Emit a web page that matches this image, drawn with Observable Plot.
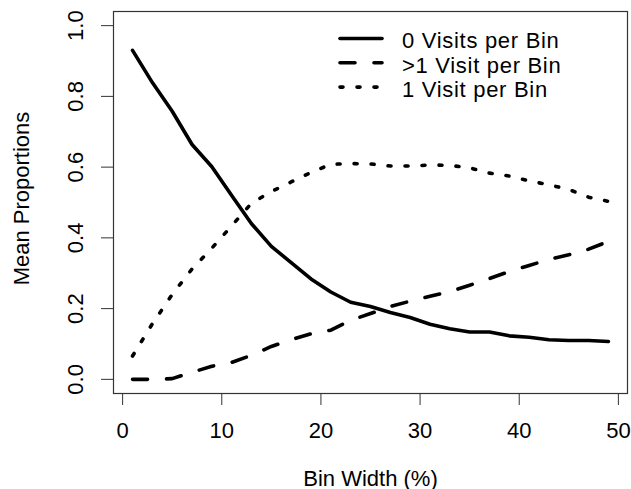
<!DOCTYPE html>
<html>
<head>
<meta charset="utf-8">
<script src="https://cdn.jsdelivr.net/npm/d3@7"></script>
<script src="https://cdn.jsdelivr.net/npm/@observablehq/plot@0.6"></script>
<style>
  body { margin: 0; background: #fff; }
  #chart svg { display: block; }
</style>
</head>
<body>
<div id="chart"></div>
<script>
// Bin width (%) at which the mean proportions were computed
const binWidth = [1, 3, 5, 7, 9, 11, 13, 15, 17, 19, 21, 23, 25, 27, 29, 31, 33, 35, 37, 39, 41, 43, 45, 47, 49];

// Mean proportion of bins with no visits
const zeroVisits = [0.930, 0.839, 0.758, 0.664, 0.601, 0.520, 0.440, 0.376, 0.330, 0.284, 0.247, 0.218, 0.206,
                    0.189, 0.175, 0.156, 0.143, 0.134, 0.134, 0.123, 0.119, 0.112, 0.110, 0.110, 0.107];

// Mean proportion of bins with more than one visit
const multiVisits = [0.000, 0.000, 0.002, 0.020, 0.037, 0.048, 0.068, 0.093, 0.112, 0.129, 0.139, 0.167, 0.186,
                     0.206, 0.221, 0.235, 0.248, 0.266, 0.285, 0.305, 0.322, 0.339, 0.352, 0.368, 0.390];

// Mean proportion of bins with exactly one visit
const oneVisit = [0.066, 0.157, 0.240, 0.312, 0.371, 0.434, 0.498, 0.531, 0.558, 0.585, 0.608, 0.610, 0.609,
                  0.603, 0.603, 0.606, 0.605, 0.598, 0.583, 0.575, 0.561, 0.550, 0.537, 0.515, 0.503];

const xTicks = [0, 10, 20, 30, 40, 50];
const yTicks = [0, 0.2, 0.4, 0.6, 0.8, 1.0];
const seriesNames = ["0 Visits per Bin", ">1 Visit per Bin", "1 Visit per Bin"];
const xTitle = "Bin Width (%)";
const yTitle = "Mean Proportions";

const font = "'Liberation Sans', Arial, Helvetica, sans-serif";
// solid, dashed, dotted (round caps lengthen each dash by the stroke width)
const dashes = [null, "15,19", "3,14"];
const lineWidth = 3.6;

const rows = (values) => binWidth.map((x, i) => ({x, y: values[i]}));

const chart = Plot.plot({
  width: 631,
  height: 489,
  marginLeft: 113,
  marginRight: 4,
  marginTop: 11,
  marginBottom: 96,
  style: {fontFamily: font, fontSize: "22px", color: "#000", background: "#fff"},
  x: {domain: [-0.92, 50.92]},
  y: {domain: [-0.04, 1.04]},
  marks: [
    Plot.axisX(xTicks, {tickSize: 12, tickPadding: 17, fontSize: 22, label: null, stroke: "#333"}),
    Plot.axisY(yTicks, {tickSize: 12, tickFormat: () => "", label: null, stroke: "#333"}),
    Plot.text(yTicks, {
      y: (d) => d, text: (d) => d.toFixed(1), frameAnchor: "left", dx: -31,
      rotate: -90, textAnchor: "middle", lineAnchor: "bottom", fontSize: 22, fill: "#000"
    }),
    Plot.text([xTitle], {
      text: (d) => d, frameAnchor: "bottom", dy: 92, lineAnchor: "bottom",
      fontSize: 22, fill: "#000", style: {letterSpacing: "0.8px"}
    }),
    Plot.text([yTitle], {
      text: (d) => d, frameAnchor: "left", dx: -85, dy: -4, rotate: -90,
      textAnchor: "middle", lineAnchor: "bottom", fontSize: 22, fill: "#000"
    }),
    Plot.line(rows(zeroVisits), {x: "x", y: "y", stroke: "#000", strokeWidth: lineWidth}),
    Plot.line(rows(multiVisits), {x: "x", y: "y", stroke: "#000", strokeWidth: lineWidth, strokeDasharray: dashes[1]}),
    Plot.line(rows(oneVisit), {x: "x", y: "y", stroke: "#000", strokeWidth: lineWidth, strokeDasharray: dashes[2]}),
    Plot.frame({stroke: "#333", strokeWidth: 1.2})
  ]
});

// Legend in the top-right corner of the plotting region, no box
const svg = d3.select(chart);
const legend = svg.append("g")
  .attr("font-family", font)
  .attr("font-size", 22)
  .attr("text-anchor", "start");
seriesNames.forEach((name, i) => {
  const y = 38.5 + i * 24.3;
  legend.append("line")
    .attr("x1", 340).attr("x2", 382).attr("y1", y).attr("y2", y)
    .attr("stroke", "#000").attr("stroke-width", lineWidth)
    .attr("stroke-linecap", "round")
    .attr("stroke-dasharray", dashes[i]);
  legend.append("text")
    .attr("x", 402).attr("y", y + 9.8)
    .attr("fill", "#000")
    .style("letter-spacing", "0.7px")
    .text(name);
});

document.getElementById("chart").appendChild(chart);
</script>
</body>
</html>
